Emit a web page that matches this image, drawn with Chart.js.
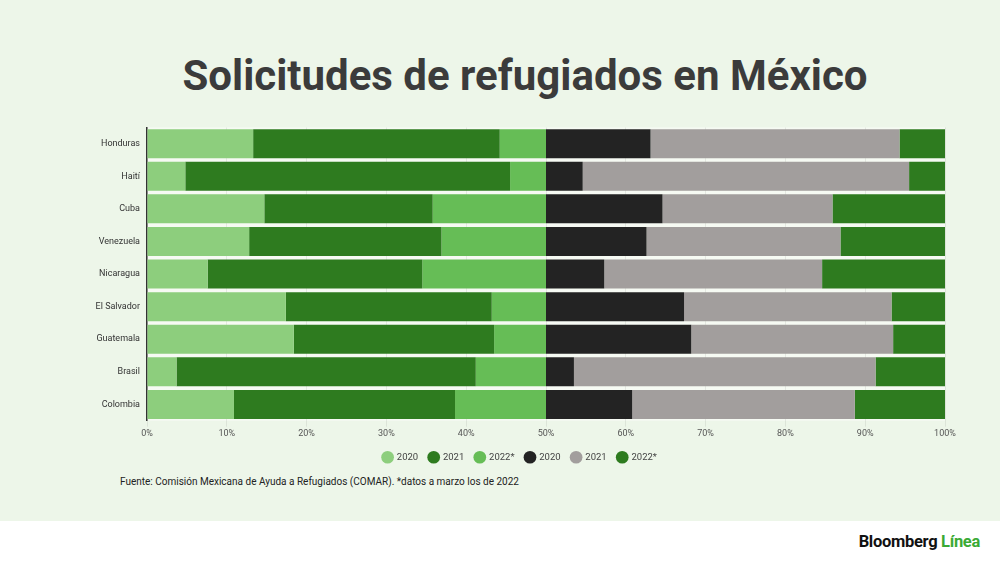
<!DOCTYPE html>
<html lang="es">
<head>
<meta charset="utf-8">
<title>Solicitudes de refugiados en México</title>
<script src="https://cdn.jsdelivr.net/npm/chart.js"></script>
<style>
  html, body { margin: 0; padding: 0; }
  body {
    width: 1000px;
    height: 562px;
    position: relative;
    overflow: hidden;
    background: #edf6e9;
    font-family: Roboto, "Noto Sans", sans-serif;
  }
  #title {
    position: absolute;
    left: 0;
    width: 1050px;
    top: 51px;
    text-align: center;
    font-size: 42px;
    font-weight: 700;
    color: #3b3b3b;
  }
  #chartBox {
    position: absolute;
    left: 0;
    top: 115px;
    width: 1000px;
    height: 357px;
  }
  #source {
    position: absolute;
    left: 120px;
    top: 476px;
    font-size: 10px;
    color: #222;
  }
  #footer {
    position: absolute;
    left: 0;
    top: 521px;
    width: 1000px;
    height: 41px;
    background: #ffffff;
  }
  #logo {
    position: absolute;
    right: 20px;
    top: 11px;
    font-size: 16.5px;
    font-weight: 700;
    letter-spacing: -0.3px;
    color: #111;
  }
  #logo span { color: #3aaa35; }
</style>
</head>
<body>
<div id="title">Solicitudes de refugiados en México</div>
<div id="chartBox"><canvas id="refugeChart"></canvas></div>
<div id="source">Fuente: Comisión Mexicana de Ayuda a Refugiados (COMAR). *datos a marzo los de 2022</div>
<div id="footer"><div id="logo">Bloomberg <span>Línea</span></div></div>

<script>
// countries, top to bottom
const countries = ['Honduras', 'Haití', 'Cuba', 'Venezuela', 'Nicaragua', 'El Salvador', 'Guatemala', 'Brasil', 'Colombia'];

// left half (greens), each row sums to 50
const left2020 = [13.3, 4.8, 14.7, 12.8, 7.6, 17.4, 18.4, 3.7, 10.9];
const left2021 = [30.9, 40.7, 21.1, 24.1, 26.9, 25.8, 25.1, 37.5, 27.7];
const left2022 = [5.8, 4.5, 14.2, 13.1, 15.5, 6.8, 6.5, 8.8, 11.4];

// right half (black / grey / green), each row sums to 50
const right2020 = [13.1, 4.6, 14.6, 12.6, 7.3, 17.3, 18.2, 3.5, 10.8];
const right2021 = [31.2, 40.9, 21.3, 24.3, 27.3, 26.0, 25.3, 37.8, 27.9];
const right2022 = [5.7, 4.5, 14.1, 13.1, 15.4, 6.7, 6.5, 8.7, 11.3];

const xTicks = ['0%', '10%', '20%', '30%', '40%', '50%', '60%', '70%', '80%', '90%', '100%'];

// lighter strip behind the bars
const plotBg = {
  id: 'plotBg',
  beforeDraw(chart) {
    const { ctx, chartArea } = chart;
    ctx.save();
    ctx.fillStyle = '#f6faf3';
    ctx.fillRect(chartArea.left, chartArea.top, chartArea.right - chartArea.left, chartArea.bottom - chartArea.top);
    ctx.restore();
  }
};

document.addEventListener('DOMContentLoaded', () => {
  const ctx = document.getElementById('refugeChart').getContext('2d');

  const mk = (label, data, color) => ({
    label: label,
    data: data,
    backgroundColor: color,
    borderWidth: 0,
    barPercentage: 0.89,
    categoryPercentage: 1.0
  });

  new Chart(ctx, {
    type: 'bar',
    data: {
      labels: countries,
      datasets: [
        mk('2020', left2020, '#8dce7d'),
        mk('2021', left2021, '#2e7b1f'),
        mk('2022*', left2022, '#66bd56'),
        mk('2020', right2020, '#232323'),
        mk('2021', right2021, '#a29e9d'),
        mk('2022*', right2022, '#2e7b1f')
      ]
    },
    options: {
      indexAxis: 'y',
      responsive: true,
      maintainAspectRatio: false,
      animation: false,
      // left padding pushes the legend centre over to match the original
      layout: { padding: { top: 10, right: 55, left: 95, bottom: 0 } },
      scales: {
        x: {
          stacked: true,
          min: 0,
          max: 100,
          ticks: {
            stepSize: 10,
            color: '#555',
            font: { family: 'Roboto', size: 9 },
            padding: 2,
            callback: (v, i) => xTicks[i]
          },
          grid: { color: 'rgba(0, 0, 0, 0.07)', drawTicks: true, tickLength: 6 },
          border: { display: false }
        },
        y: {
          stacked: true,
          ticks: { color: '#333', font: { family: 'Roboto', size: 9 }, padding: 7 },
          grid: { display: false, drawTicks: false },
          border: { display: true, color: '#333', width: 1.5 },
          afterFit: scale => { scale.width = 52; }
        }
      },
      plugins: {
        legend: {
          position: 'bottom',
          labels: {
            usePointStyle: true,
            pointStyle: 'circle',
            boxWidth: 9,
            boxHeight: 9,
            padding: 11,
            color: '#444',
            font: { family: 'Roboto', size: 9.5 }
          }
        },
        tooltip: {
          callbacks: {
            label: c => `${c.dataset.label}: ${(c.parsed.x * 2).toFixed(1)}%`
          }
        }
      }
    },
    plugins: [plotBg]
  });
});
</script>
</body>
</html>
